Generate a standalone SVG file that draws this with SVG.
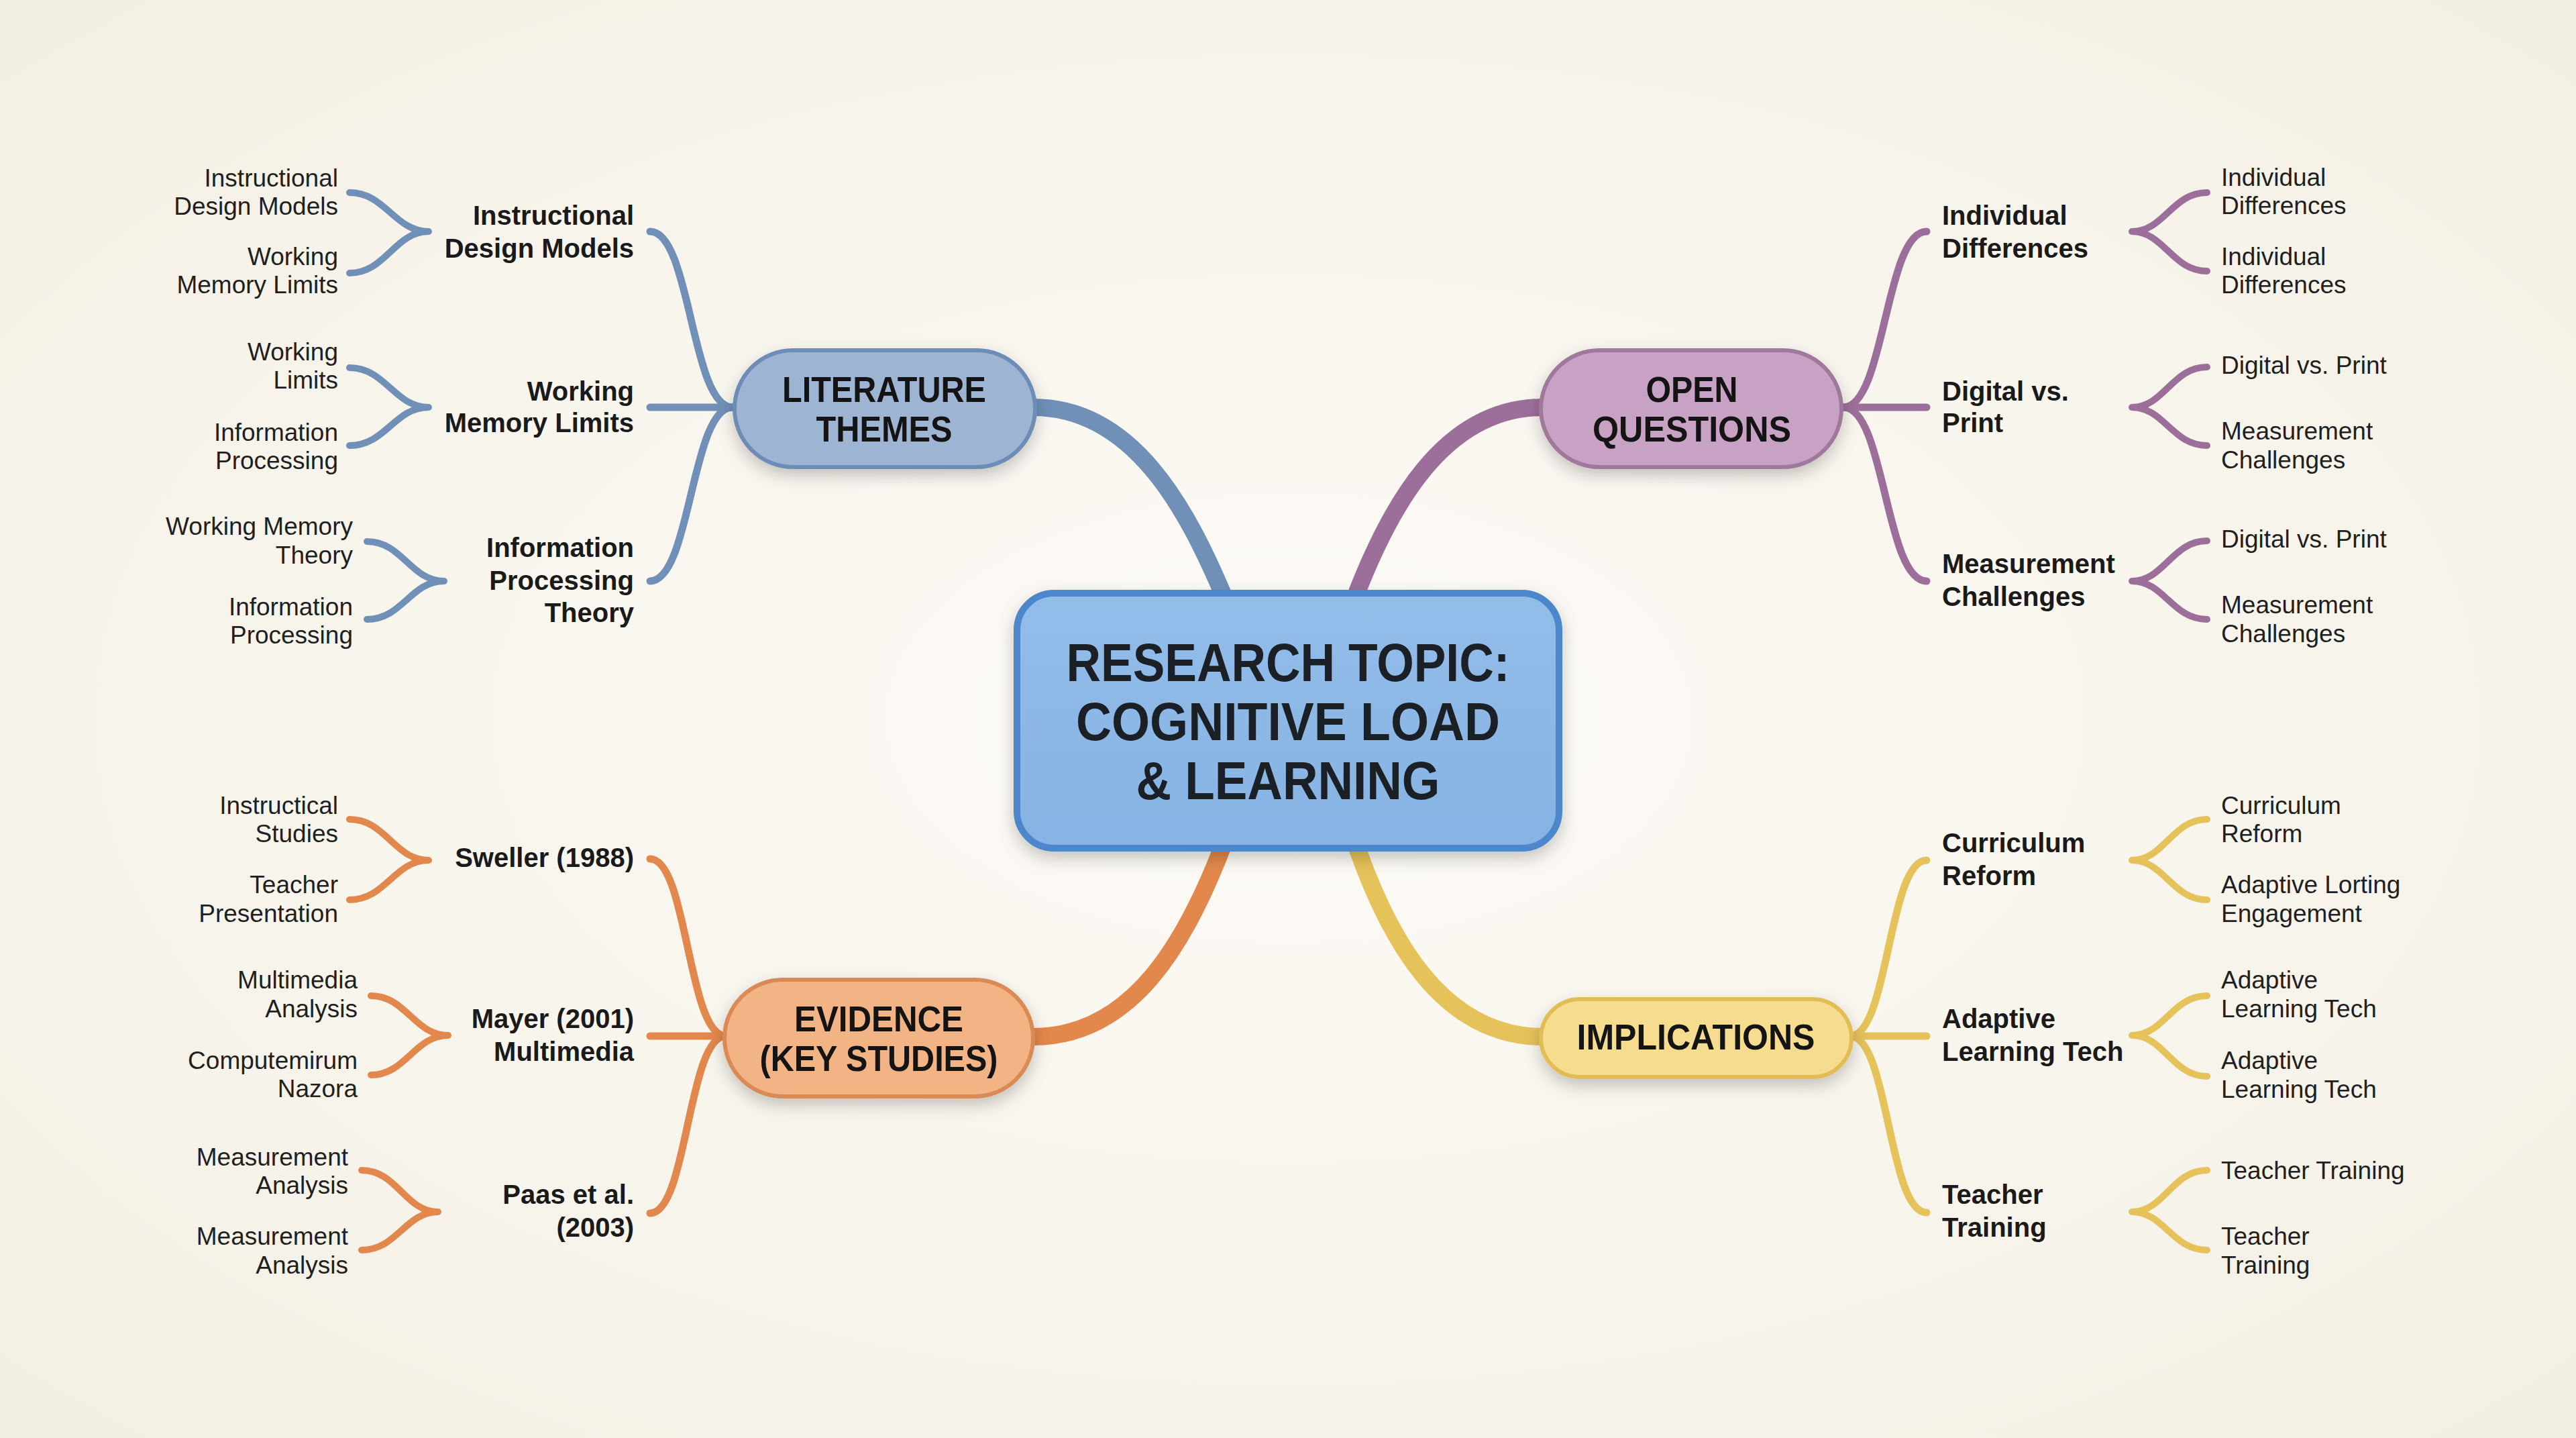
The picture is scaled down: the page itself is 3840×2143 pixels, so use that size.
<svg xmlns="http://www.w3.org/2000/svg" width="3840" height="2143" viewBox="0 0 3840 2143">
<defs>
<radialGradient id="bg" cx="50%" cy="50%" r="70%">
<stop offset="0" stop-color="#fdfbf6"/>
<stop offset="1" stop-color="#f3efe4"/>
</radialGradient>
<linearGradient id="gC" x1="0" y1="0" x2="0" y2="1"><stop offset="0" stop-color="#93bde9"/><stop offset="1" stop-color="#86b3e3"/></linearGradient>
<filter id="sh" x="-20%" y="-30%" width="140%" height="170%">
<feDropShadow dx="0" dy="10" stdDeviation="12" flood-color="#000" flood-opacity="0.22"/>
</filter>
<style>
.t2{font-family:"Liberation Sans",Arial,sans-serif;font-weight:700;font-size:40px;fill:#1a1a1a}
.t3{font-family:"Liberation Sans",Arial,sans-serif;font-size:37px;fill:#1f1f1f}
.tn{font-family:"Liberation Sans",Arial,sans-serif;font-weight:700;font-size:54px;fill:#141414;text-anchor:middle}
.tc{font-family:"Liberation Sans",Arial,sans-serif;font-weight:700;font-size:80px;fill:#1b1f26;text-anchor:middle}
.e{text-anchor:end}
.c{fill:none;stroke-linecap:round;stroke-linejoin:round}
.m{stroke-width:26}
.l2{stroke-width:11}
.l3{stroke-width:10}
.blue{stroke:#7090b8}
.pur{stroke:#9c6f9a}
.ora{stroke:#e2884c}
.yel{stroke:#e6c25a}
</style>
</defs>
<rect width="3840" height="2143" fill="url(#bg)"/>

<g id="connectors">
<!-- main -->
<path class="c m blue" d="M1540,607 C1690,607 1770,760 1825,890"/>
<path class="c m pur" d="M2300,607 C2150,607 2070,760 2020,890"/>
<path class="c m ora" d="M1540,1545 C1690,1545 1770,1400 1825,1255"/>
<path class="c m yel" d="M2020,1255 C2070,1400 2150,1545 2300,1545"/>
<!-- level 2 left: literature -->
<path class="c l2 blue" d="M969,345 C1030,345 1030,607 1092,607"/>
<path class="c l2 blue" d="M969,607 L1092,607"/>
<path class="c l2 blue" d="M969,866 C1030,866 1030,607 1092,607"/>
<!-- level 2 left: evidence -->
<path class="c l2 ora" d="M969,1280 C1025,1280 1025,1544 1082,1544"/>
<path class="c l2 ora" d="M969,1544 L1082,1544"/>
<path class="c l2 ora" d="M969,1808 C1025,1808 1025,1544 1082,1544"/>
<!-- level 2 right: open questions -->
<path class="c l2 pur" d="M2872,345 C2810,345 2810,607 2748,607"/>
<path class="c l2 pur" d="M2872,607 L2748,607"/>
<path class="c l2 pur" d="M2872,866 C2810,866 2810,607 2748,607"/>
<!-- level 2 right: implications -->
<path class="c l2 yel" d="M2872,1282 C2815,1282 2815,1544 2758,1544"/>
<path class="c l2 yel" d="M2872,1544 L2758,1544"/>
<path class="c l2 yel" d="M2872,1807 C2815,1807 2815,1544 2758,1544"/>
<!-- level 3 left -->
<path class="c l3 blue" d="M521,287 C575,287 588,345 639,345 M521,407 C575,407 588,345 639,345"/>
<path class="c l3 blue" d="M521,548 C575,548 588,607 639,607 M521,664 C575,664 588,607 639,607"/>
<path class="c l3 blue" d="M547,807 C600,807 612,866 662,866 M547,923 C600,923 612,866 662,866"/>
<path class="c l3 ora" d="M521,1221 C575,1221 588,1282 639,1282 M521,1341 C575,1341 588,1282 639,1282"/>
<path class="c l3 ora" d="M553,1484 C605,1484 618,1543 668,1543 M553,1602 C605,1602 618,1543 668,1543"/>
<path class="c l3 ora" d="M539,1744 C592,1744 604,1806 653,1806 M539,1863 C592,1863 604,1806 653,1806"/>
<!-- level 3 right -->
<path class="c l3 pur" d="M3290,287 C3238,287 3226,345 3178,345 M3290,404 C3238,404 3226,345 3178,345"/>
<path class="c l3 pur" d="M3290,547 C3238,547 3226,607 3178,607 M3290,664 C3238,664 3226,607 3178,607"/>
<path class="c l3 pur" d="M3290,806 C3238,806 3226,866 3178,866 M3290,923 C3238,923 3226,866 3178,866"/>
<path class="c l3 yel" d="M3290,1221 C3238,1221 3226,1282 3178,1282 M3290,1341 C3238,1341 3226,1282 3178,1282"/>
<path class="c l3 yel" d="M3290,1484 C3238,1484 3226,1543 3178,1543 M3290,1604 C3238,1604 3226,1543 3178,1543"/>
<path class="c l3 yel" d="M3290,1744 C3238,1744 3226,1806 3178,1806 M3290,1863 C3238,1863 3226,1806 3178,1806"/>
</g>

<g id="central">
<rect x="1516" y="884" width="808" height="380" rx="55" fill="url(#gC)" stroke="#4d87cb" stroke-width="10" filter="url(#sh)"/>
<text class="tc" x="1920" y="1015" textLength="661" lengthAdjust="spacingAndGlyphs">RESEARCH TOPIC:</text>
<text class="tc" x="1920" y="1103" textLength="632" lengthAdjust="spacingAndGlyphs">COGNITIVE LOAD</text>
<text class="tc" x="1920" y="1191" textLength="453" lengthAdjust="spacingAndGlyphs">&amp; LEARNING</text>
</g>

<g id="literature-themes">
<rect x="1095" y="522" width="448" height="174" rx="87" fill="#9db5d3" stroke="#6d8db6" stroke-width="6" filter="url(#sh)"/>
<text class="tn" x="1318" y="599" textLength="304" lengthAdjust="spacingAndGlyphs">LITERATURE</text>
<text class="tn" x="1318" y="658" textLength="203" lengthAdjust="spacingAndGlyphs">THEMES</text>
</g>

<g id="open-questions">
<rect x="2297" y="522" width="448" height="174" rx="87" fill="#c8a2c4" stroke="#9f789b" stroke-width="6" filter="url(#sh)"/>
<text class="tn" x="2522" y="599" textLength="137" lengthAdjust="spacingAndGlyphs">OPEN</text>
<text class="tn" x="2522" y="658" textLength="296" lengthAdjust="spacingAndGlyphs">QUESTIONS</text>
</g>

<g id="evidence">
<rect x="1080" y="1460" width="460" height="174" rx="87" fill="#f2b385" stroke="#da8a55" stroke-width="6" filter="url(#sh)"/>
<text class="tn" x="1310" y="1537" textLength="252" lengthAdjust="spacingAndGlyphs">EVIDENCE</text>
<text class="tn" x="1310" y="1596" textLength="355" lengthAdjust="spacingAndGlyphs">(KEY STUDIES)</text>
</g>

<g id="implications">
<rect x="2297" y="1489" width="463" height="116" rx="58" fill="#f6dc8f" stroke="#e2bd57" stroke-width="6" filter="url(#sh)"/>
<text class="tn" x="2528" y="1564" textLength="355" lengthAdjust="spacingAndGlyphs">IMPLICATIONS</text>
</g>

<!-- level 2 left -->
<g id="lt-instructional"><text class="t2 e" x="945" y="335">Instructional<tspan x="945" dy="49">Design Models</tspan></text></g>
<g id="lt-working"><text class="t2 e" x="945" y="597">Working<tspan x="945" dy="47">Memory Limits</tspan></text></g>
<g id="lt-information"><text class="t2 e" x="945" y="830">Information<tspan x="945" dy="49">Processing</tspan><tspan x="945" dy="48">Theory</tspan></text></g>
<g id="ev-sweller"><text class="t2 e" x="945" y="1292">Sweller (1988)</text></g>
<g id="ev-mayer"><text class="t2 e" x="945" y="1532">Mayer (2001)<tspan x="945" dy="49">Multimedia</tspan></text></g>
<g id="ev-paas"><text class="t2 e" x="945" y="1794">Paas et al.<tspan x="945" dy="49">(2003)</tspan></text></g>

<!-- level 2 right -->
<g id="oq-individual"><text class="t2" x="2895" y="335">Individual<tspan x="2895" dy="49">Differences</tspan></text></g>
<g id="oq-digital"><text class="t2" x="2895" y="597">Digital vs.<tspan x="2895" dy="47">Print</tspan></text></g>
<g id="oq-measurement"><text class="t2" x="2895" y="854">Measurement<tspan x="2895" dy="49">Challenges</tspan></text></g>
<g id="im-curriculum"><text class="t2" x="2895" y="1270">Curriculum<tspan x="2895" dy="49">Reform</tspan></text></g>
<g id="im-adaptive"><text class="t2" x="2895" y="1532">Adaptive<tspan x="2895" dy="49">Learning Tech</tspan></text></g>
<g id="im-teacher"><text class="t2" x="2895" y="1794">Teacher<tspan x="2895" dy="49">Training</tspan></text></g>

<!-- level 3 left -->
<g id="lt1a"><text class="t3 e" x="504" y="278">Instructional<tspan x="504" dy="42">Design Models</tspan></text></g>
<g id="lt1b"><text class="t3 e" x="504" y="395">Working<tspan x="504" dy="42">Memory Limits</tspan></text></g>
<g id="lt2a"><text class="t3 e" x="504" y="537">Working<tspan x="504" dy="42">Limits</tspan></text></g>
<g id="lt2b"><text class="t3 e" x="504" y="657">Information<tspan x="504" dy="42">Processing</tspan></text></g>
<g id="lt3a"><text class="t3 e" x="526" y="797">Working Memory<tspan x="526" dy="43">Theory</tspan></text></g>
<g id="lt3b"><text class="t3 e" x="526" y="917">Information<tspan x="526" dy="42">Processing</tspan></text></g>
<g id="ev1a"><text class="t3 e" x="504" y="1213">Instructical<tspan x="504" dy="42">Studies</tspan></text></g>
<g id="ev1b"><text class="t3 e" x="504" y="1331">Teacher<tspan x="504" dy="43">Presentation</tspan></text></g>
<g id="ev2a"><text class="t3 e" x="533" y="1473">Multimedia<tspan x="533" dy="43">Analysis</tspan></text></g>
<g id="ev2b"><text class="t3 e" x="533" y="1593">Computemirum<tspan x="533" dy="42">Nazora</tspan></text></g>
<g id="ev3a"><text class="t3 e" x="519" y="1737">Measurement<tspan x="519" dy="42">Analysis</tspan></text></g>
<g id="ev3b"><text class="t3 e" x="519" y="1855">Measurement<tspan x="519" dy="43">Analysis</tspan></text></g>

<!-- level 3 right -->
<g id="oq1a"><text class="t3" x="3311" y="277">Individual<tspan x="3311" dy="42">Differences</tspan></text></g>
<g id="oq1b"><text class="t3" x="3311" y="395">Individual<tspan x="3311" dy="42">Differences</tspan></text></g>
<g id="oq2a"><text class="t3" x="3311" y="557">Digital vs. Print</text></g>
<g id="oq2b"><text class="t3" x="3311" y="655">Measurement<tspan x="3311" dy="43">Challenges</tspan></text></g>
<g id="oq3a"><text class="t3" x="3311" y="816">Digital vs. Print</text></g>
<g id="oq3b"><text class="t3" x="3311" y="914">Measurement<tspan x="3311" dy="43">Challenges</tspan></text></g>
<g id="im1a"><text class="t3" x="3311" y="1213">Curriculum<tspan x="3311" dy="42">Reform</tspan></text></g>
<g id="im1b"><text class="t3" x="3311" y="1331">Adaptive Lorting<tspan x="3311" dy="43">Engagement</tspan></text></g>
<g id="im2a"><text class="t3" x="3311" y="1473">Adaptive<tspan x="3311" dy="43">Learning Tech</tspan></text></g>
<g id="im2b"><text class="t3" x="3311" y="1593">Adaptive<tspan x="3311" dy="43">Learning Tech</tspan></text></g>
<g id="im3a"><text class="t3" x="3311" y="1757">Teacher Training</text></g>
<g id="im3b"><text class="t3" x="3311" y="1855">Teacher<tspan x="3311" dy="43">Training</tspan></text></g>
</svg>
